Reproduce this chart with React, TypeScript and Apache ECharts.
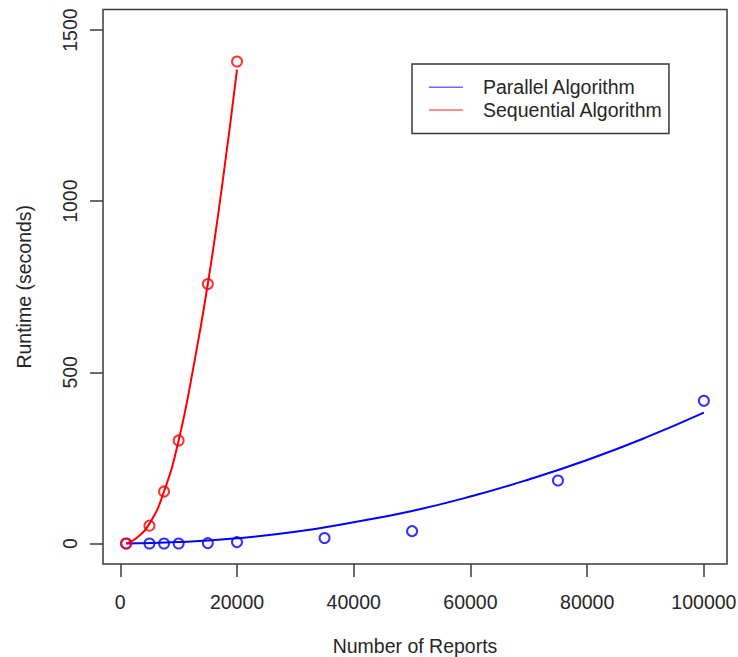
import React, { useEffect, useRef } from "react";
import * as echarts from "echarts";

// Measured points
const parallelX = [1000, 5000, 7500, 10000, 15000, 20000, 35000, 50000, 75000, 100000];
const parallelY = [0, 0, 0, 0, 1, 4, 16, 36, 184, 417];
const sequentialX = [1000, 5000, 7500, 10000, 15000, 20000];
const sequentialY = [0, 52, 152, 301, 758, 1408];

// Fitted curves
const parallelCurveX = [1000, 10000, 20000, 30000, 40000, 50000, 60000, 70000, 80000, 90000, 100000];
const parallelCurveY = [0, 4, 15, 34, 62, 95, 137, 187, 244, 309, 382];
const sequentialCurveX = [1000, 2500, 5000, 7500, 10000, 12500, 15000, 17500, 20000];
const sequentialCurveY = [0, 12, 58, 152, 301, 512, 758, 1052, 1384];

const xTicks = [0, 20000, 40000, 60000, 80000, 100000];
const yTicks = [0, 500, 1000, 1500];

const seriesNames = ["Parallel Algorithm", "Sequential Algorithm"];
const xTitle = "Number of Reports";
const yTitle = "Runtime (seconds)";

const zip = (xs: number[], ys: number[]) => xs.map((x, i) => [x, ys[i]]);

const FONT = "Liberation Sans, Arial, Helvetica, sans-serif";
const TEXT = "#262626";
const AXIS = "#3a3a3a";
const BLUE = "#0000ff";
const RED = "#ff0000";

export default function App() {
  const ref = useRef<HTMLDivElement>(null);
  useEffect(() => {
    if (!ref.current) return;
    const chart = echarts.init(ref.current, null, { renderer: "svg" });
    chart.setOption({
      animation: false,
      backgroundColor: "#ffffff",
      textStyle: { fontFamily: FONT },
      grid: {
        left: 103,
        right: 11,
        top: 9.5,
        bottom: 93,
        outerBoundsMode: "none",
        containLabel: false,
        show: true,
        borderColor: AXIS,
        borderWidth: 1.5,
        backgroundColor: "transparent",
      },
      legend: {
        left: 412,
        top: 64,
        orient: "vertical",
        data: [
          { name: seriesNames[0], itemStyle: { color: "#6a6aff" } },
          { name: seriesNames[1], itemStyle: { color: "#ff6a6a" } },
        ],
        icon: "rect",
        itemWidth: 34,
        itemHeight: 1.5,
        itemGap: 0,
        padding: [12, 6, 12, 17],
        borderColor: AXIS,
        borderWidth: 1.5,
        backgroundColor: "#fff",
        textStyle: {
          fontFamily: FONT,
          fontSize: 19.5,
          color: TEXT,
          lineHeight: 22.7,
          padding: [0, 0, 0, 15],
        },
      },
      xAxis: {
        type: "value",
        min: -2960,
        max: 103960,
        name: xTitle,
        nameLocation: "middle",
        nameGap: 72,
        nameTextStyle: { fontFamily: FONT, fontSize: 19.5, color: TEXT },
        axisLine: { show: false, onZero: false },
        splitLine: { show: false },
        axisTick: {
          show: true,
          inside: false,
          length: 13,
          customValues: xTicks,
          lineStyle: { color: AXIS, width: 1.5 },
        },
        axisLabel: {
          customValues: xTicks,
          formatter: (v: number) => String(v),
          margin: 28,
          fontFamily: FONT,
          fontSize: 19.5,
          color: TEXT,
        },
      },
      yAxis: {
        type: "value",
        min: -60,
        max: 1560,
        name: yTitle,
        nameLocation: "middle",
        nameGap: 69,
        nameRotate: 90,
        nameTextStyle: { fontFamily: FONT, fontSize: 19.5, color: TEXT },
        axisLine: { show: false, onZero: false },
        splitLine: { show: false },
        axisTick: {
          show: true,
          inside: false,
          length: 13,
          customValues: yTicks,
          lineStyle: { color: AXIS, width: 1.5 },
        },
        axisLabel: {
          customValues: yTicks,
          formatter: (v: number) => String(v),
          rotate: 90,
          margin: 23,
          fontFamily: FONT,
          fontSize: 19.5,
          color: TEXT,
        },
      },
      series: [
        {
          name: "Parallel points",
          type: "scatter",
          data: zip(parallelX, parallelY),
          symbol: "circle",
          symbolSize: 10,
          itemStyle: { color: "transparent", borderColor: BLUE, borderWidth: 2 },
          z: 3,
        },
        {
          name: seriesNames[0],
          type: "line",
          data: zip(parallelCurveX, parallelCurveY),
          smooth: 0.5,
          showSymbol: false,
          color: BLUE,
          lineStyle: { color: BLUE, width: 2 },
          z: 2,
        },
        {
          name: "Sequential points",
          type: "scatter",
          data: zip(sequentialX, sequentialY),
          symbol: "circle",
          symbolSize: 10,
          itemStyle: { color: "transparent", borderColor: RED, borderWidth: 2 },
          z: 4,
        },
        {
          name: seriesNames[1],
          type: "line",
          data: zip(sequentialCurveX, sequentialCurveY),
          smooth: 0.5,
          showSymbol: false,
          color: RED,
          lineStyle: { color: RED, width: 2 },
          z: 2,
        },
      ],
    });
    return () => chart.dispose();
  }, []);
  return (
    <div
      ref={ref}
      style={{ position: "fixed", left: 0, top: 0, width: 738, height: 657 }}
    />
  );
}
